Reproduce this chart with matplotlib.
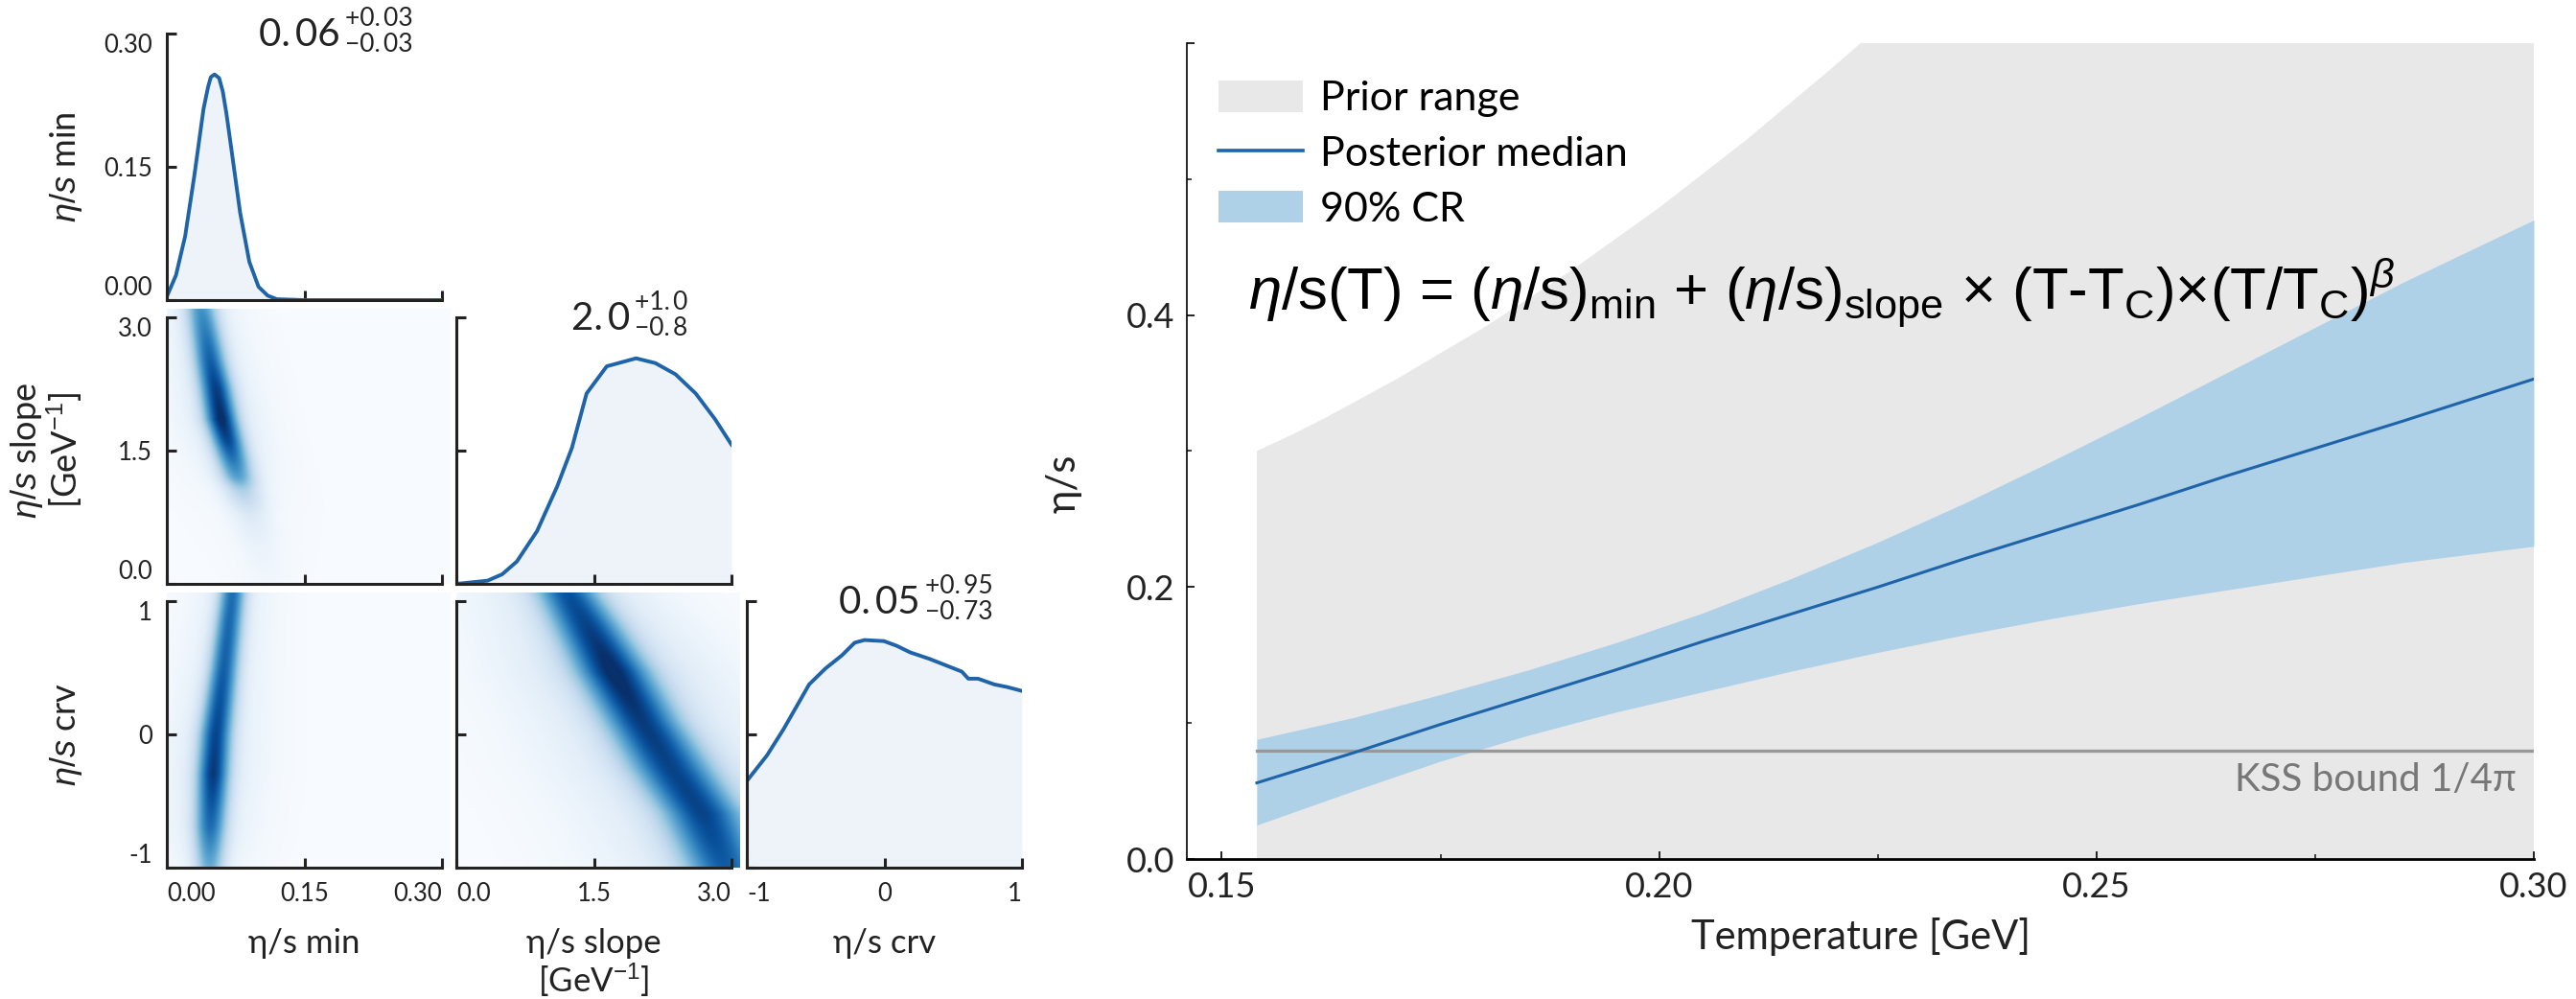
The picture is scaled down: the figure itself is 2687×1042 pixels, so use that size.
import numpy as np
import matplotlib
matplotlib.use("Agg")
import matplotlib.pyplot as plt
from matplotlib.patches import Patch
from matplotlib.lines import Line2D

plt.rcParams['font.family'] = ['Lato', 'DejaVu Sans']
plt.rcParams['mathtext.fontset'] = 'custom'
plt.rcParams['mathtext.rm'] = 'Liberation Sans'
plt.rcParams['mathtext.it'] = 'Liberation Sans:italic'
plt.rcParams['mathtext.bf'] = 'Liberation Sans:bold'

# ---------------- corner plot data ----------------
min_range = (0.0, 0.3)
slope_range = (0.0, 3.0)
crv_range = (-1.0, 1.0)

# marginal of eta/s min (drawn on the 0-0.3 axis)
min_x = [0.0, 0.01, 0.02, 0.03, 0.04, 0.045, 0.048, 0.052, 0.057, 0.061, 0.065, 0.07, 0.08, 0.09, 0.10, 0.11,
         0.12, 0.15, 0.30]
min_pdf = [0.004, 0.028, 0.072, 0.14, 0.215, 0.240, 0.251, 0.254, 0.25, 0.235, 0.21, 0.173, 0.098, 0.043,
           0.015, 0.005, 0.001, 0.0, 0.0]

# marginal of eta/s slope (drawn on the 0-3 axis)
slope_x = [0.0, 0.34, 0.50, 0.66, 0.88, 1.10, 1.26, 1.42, 1.64, 1.96, 2.17, 2.39, 2.61, 2.82, 3.0]
slope_pdf = [0.0, 0.036, 0.108, 0.252, 0.594, 1.098, 1.53, 2.143, 2.449, 2.539, 2.485, 2.359, 2.143, 1.855, 1.567]

# marginal of eta/s crv (drawn on the -1..1 axis)
crv_x = [-1.0, -0.853, -0.735, -0.641, -0.547, -0.428, -0.31, -0.216, -0.145, -0.003, 0.091, 0.186,
         0.327, 0.445, 0.563, 0.61, 0.681, 0.799, 0.894, 1.0]
crv_pdf = [-0.35, -0.157, 0.036, 0.205, 0.375, 0.495, 0.592, 0.688, 0.708, 0.70, 0.664, 0.616,
           0.567, 0.519, 0.471, 0.418, 0.418, 0.375, 0.355, 0.326]

# 2D posteriors: ridge of the density (centre, width, strength) read along the y variable
ms_slope = [0.0, 0.4, 0.77, 1.05, 1.2, 1.6, 1.85, 2.2, 2.5, 2.8, 3.1]
ms_center = [0.110, 0.101, 0.091, 0.082, 0.077, 0.066, 0.059, 0.053, 0.047, 0.042, 0.037]
ms_width = [0.02, 0.018, 0.016, 0.014, 0.013, 0.012, 0.012, 0.012, 0.012, 0.012, 0.012]
ms_amp = [0.03, 0.06, 0.13, 0.32, 0.55, 0.88, 1.0, 0.92, 0.8, 0.7, 0.6]

mc_crv = [-1.05, -0.7, -0.3, 0.0, 0.5, 1.05]
mc_center = [0.046, 0.047, 0.050, 0.053, 0.062, 0.071]
mc_width = [0.011, 0.012, 0.012, 0.012, 0.011, 0.010]
mc_amp = [0.45, 0.75, 0.95, 0.9, 0.8, 0.75]

sc_crv = [-1.05, -0.6, -0.25, 0.1, 0.47, 0.83, 1.05]
sc_center = [2.97, 2.69, 2.34, 2.02, 1.71, 1.41, 1.22]
sc_width = [0.30, 0.30, 0.30, 0.28, 0.27, 0.25, 0.23]
sc_amp = [0.75, 0.85, 0.85, 0.88, 0.95, 0.85, 0.8]

titles = [("0.\u200906", "+0.\u200903", "\u22120.\u200903"),
          ("2.\u20090", "+1.\u20090", "\u22120.\u20098"),
          ("0.\u200905", "+0.\u200995", "\u22120.\u200973")]

# ---------------- eta/s(T) data ----------------
T = [0.154, 0.165, 0.175, 0.185, 0.195, 0.205, 0.215, 0.225, 0.235, 0.245, 0.255, 0.265, 0.275, 0.285, 0.30]
cr_upper = [0.088, 0.104, 0.121, 0.139, 0.159, 0.181, 0.206, 0.233, 0.262, 0.293, 0.325, 0.358, 0.391, 0.424, 0.470]
cr_lower = [0.025, 0.050, 0.072, 0.091, 0.108, 0.123, 0.138, 0.152, 0.165, 0.177, 0.188, 0.198, 0.208, 0.218, 0.230]
median = [0.056, 0.078, 0.099, 0.119, 0.139, 0.160, 0.180, 0.200, 0.221, 0.241, 0.261, 0.282, 0.302, 0.322, 0.353]

prior_T = [0.154, 0.158, 0.162, 0.166, 0.170, 0.175, 0.180, 0.185, 0.190, 0.195, 0.200, 0.205,
           0.210, 0.215, 0.220, 0.225, 0.230, 0.30]
prior_upper = [0.300, 0.312, 0.325, 0.339, 0.353, 0.372, 0.391, 0.412, 0.433, 0.456, 0.479, 0.504,
               0.529, 0.556, 0.583, 0.611, 0.641, 0.95]
kss = 1 / (4 * np.pi)

# ---------------- styling ----------------
line_c = '#1f63a8'
fill_c = '#eef3f9'
band_c = '#aed1e7'
prior_c = '#e8e8e8'
W, H = 2687, 1042

fig = plt.figure(figsize=(W / 100, H / 100), dpi=100)

col_px = [174, 476, 779]
row_px = [35, 331, 627]
ax_w, ax_h = 287, 278


def make_ax(r, c):
    return fig.add_axes([col_px[c] / W, 1 - (row_px[r] + ax_h) / H, ax_w / W, ax_h / H])


def corner_style(ax, xr, yr, xticks, yticks, xlabels=None, ylabels=None):
    ax.set_xlim(xr)
    ax.set_ylim(yr)
    ax.set_facecolor('none')
    for s in ['top', 'right']:
        ax.spines[s].set_visible(False)
    for s in ['left', 'bottom']:
        ax.spines[s].set_linewidth(2.2)
        ax.spines[s].set_color('#222222')
    ax.tick_params(direction='in', length=7, width=2.2, color='#222222', labelsize=18.5,
                   pad=11, labelcolor='#222222')
    ax.set_xticks(xticks)
    ax.set_yticks(yticks)
    if xlabels is None:
        ax.set_xticklabels([])
    else:
        ax.set_xticklabels(xlabels)
        tk = ax.xaxis.get_major_ticks()
        tk[0].label1.set_horizontalalignment('left')
        tk[-1].label1.set_horizontalalignment('right')
    if ylabels is None:
        ax.set_yticklabels([])
    else:
        ax.set_yticklabels(ylabels)
        tk = ax.yaxis.get_major_ticks()
        tk[0].label1.set_verticalalignment('bottom')
        tk[-1].label1.set_verticalalignment('top')


def ridge_image(ax, xr, yr, ys, centers, widths, amps, halo=0.15, halo_w=2.8):
    nx, ny = 220, 220
    ext_x = xr[1] + 0.03 * (xr[1] - xr[0])
    ext_y = yr[1] + 0.03 * (yr[1] - yr[0])
    gx = np.linspace(xr[0], ext_x, nx)
    gy = np.linspace(yr[0], ext_y, ny)
    X, Y = np.meshgrid(gx, gy)
    c = np.interp(Y, ys, centers)
    w = np.interp(Y, ys, widths)
    a = np.interp(Y, ys, amps)
    d = X - c
    Z = a * (np.exp(-d ** 2 / (2 * w ** 2)) + halo * np.exp(-d ** 2 / (2 * (halo_w * w) ** 2)))
    im = ax.imshow(Z, origin='lower', extent=[xr[0], ext_x, yr[0], ext_y], aspect='auto',
                   cmap='Blues', vmin=0, vmax=1.12, interpolation='bilinear', zorder=0)
    im.set_clip_on(False)


def post_title(ax, med, up, lo):
    x0, y0 = 0.63, 0.952
    ax.text(x0, y0, med, transform=ax.transAxes, ha='right', va='baseline', fontsize=29, color='#222222')
    ax.annotate(up, xy=(x0, y0), xycoords='axes fraction', xytext=(4, 15.5), textcoords='offset points',
                ha='left', va='baseline', fontsize=19, color='#222222')
    ax.annotate(lo, xy=(x0, y0), xycoords='axes fraction', xytext=(4, -3.8), textcoords='offset points',
                ha='left', va='baseline', fontsize=19, color='#222222')


# diagonal: eta/s min
ax00 = make_ax(0, 0)
ax00.fill_between(min_x, 0, min_pdf, color=fill_c, lw=0)
ax00.plot(min_x, min_pdf, color=line_c, lw=2.8)
corner_style(ax00, min_range, (0, 0.3), [0, 0.15, 0.3], [0, 0.15, 0.3], None, ['0.00', '0.15', '0.30'])
ax00.set_ylabel(r'$\eta/s$ min', fontsize=26, color='#222222')
post_title(ax00, *titles[0])

# eta/s slope vs min
ax10 = make_ax(1, 0)
ridge_image(ax10, min_range, slope_range, ms_slope, ms_center, ms_width, ms_amp)
corner_style(ax10, min_range, slope_range, [0, 0.15, 0.3], [0, 1.5, 3.0], None, ['0.0', '1.5', '3.0'])
ax10.set_ylabel('$\\eta/s$ slope\n[GeV$^{-1}$]', fontsize=26, color='#222222', linespacing=1.0)

# diagonal: eta/s slope
ax11 = make_ax(1, 1)
ax11.fill_between(slope_x, 0, slope_pdf, color=fill_c, lw=0)
ax11.plot(slope_x, slope_pdf, color=line_c, lw=2.8)
corner_style(ax11, slope_range, slope_range, [0, 1.5, 3.0], [0, 1.5, 3.0])
post_title(ax11, *titles[1])

# eta/s crv vs min
ax20 = make_ax(2, 0)
ridge_image(ax20, min_range, crv_range, mc_crv, mc_center, mc_width, mc_amp, halo=0.14, halo_w=3.2)
corner_style(ax20, min_range, crv_range, [0, 0.15, 0.3], [-1, 0, 1], ['0.00', '0.15', '0.30'], ['-1', '0', '1'])
ax20.set_ylabel(r'$\eta/s$ crv', fontsize=26, color='#222222')
ax20.set_xlabel('\u03b7/s min', fontsize=25, color='#222222')

# eta/s crv vs slope
ax21 = make_ax(2, 1)
ridge_image(ax21, slope_range, crv_range, sc_crv, sc_center, sc_width, sc_amp, halo=0.22, halo_w=3.0)
corner_style(ax21, slope_range, crv_range, [0, 1.5, 3.0], [-1, 0, 1], ['0.0', '1.5', '3.0'], None)
ax21.set_xlabel('\u03b7/s slope\n[GeV$^{-1}$]', fontsize=25, color='#222222', linespacing=1.1)

# diagonal: eta/s crv
ax22 = make_ax(2, 2)
ax22.fill_between(crv_x, -1, crv_pdf, color=fill_c, lw=0)
ax22.plot(crv_x, crv_pdf, color=line_c, lw=2.8)
corner_style(ax22, crv_range, crv_range, [-1, 0, 1], [-1, 0, 1], ['-1', '0', '1'], None)
ax22.set_xlabel('\u03b7/s crv', fontsize=25, color='#222222')
post_title(ax22, *titles[2])

for a in [ax00, ax10, ax20]:
    a.yaxis.set_label_coords(-0.30, 0.5)
for a in [ax20, ax21, ax22]:
    a.xaxis.set_label_coords(0.5, -0.225)

# ---------------- eta/s(T) panel ----------------
ax = fig.add_axes([1238 / W, 1 - 896 / H, (2643 - 1238) / W, 851 / H])
ax.fill_between(prior_T, 0, prior_upper, color=prior_c, lw=0, zorder=1)
ax.fill_between(T, cr_lower, cr_upper, color=band_c, lw=0, zorder=2)
ax.plot([T[0], T[-1]], [kss, kss], color='#999999', lw=2.4, zorder=2.5)
ax.plot(T, median, color=line_c, lw=2.2, zorder=3)
ax.text(0.298, 0.071, 'KSS bound 1/4\u03c0', ha='right', va='top', fontsize=29, color='#777777', zorder=4)

ax.set_xlim(0.146, 0.30)
ax.set_ylim(0, 0.6)
for s in ['top', 'right']:
    ax.spines[s].set_visible(False)
ax.spines['left'].set_linewidth(1.2)
ax.spines['bottom'].set_linewidth(2.0)
ax.set_xticks([0.15, 0.20, 0.25, 0.30])
ax.set_xticklabels(['0.15', '0.20', '0.25', '0.30'])
ax.set_xticks([0.175, 0.225, 0.275], minor=True)
ax.set_yticks([0.0, 0.2, 0.4, 0.6])
ax.set_yticklabels(['0.0', '0.2', '0.4', ''])
ax.set_yticks([0.1, 0.3, 0.5], minor=True)
ax.tick_params(which='major', direction='in', length=6, width=1.4, labelsize=26, pad=9, colors='#222222')
ax.tick_params(which='minor', direction='in', length=3.5, width=1.2, colors='#222222')
ax.set_xlabel('Temperature [GeV]', fontsize=30, color='#222222')
ax.xaxis.set_label_coords(0.5, -0.072)
ax.set_ylabel('\u03b7/s', fontsize=30, color='#222222')
ax.yaxis.set_label_coords(-0.078, 0.46)

handles = [Patch(facecolor=prior_c, edgecolor='none'),
           Line2D([], [], color=line_c, lw=2.6),
           Patch(facecolor=band_c, edgecolor='none')]
ax.legend(handles, ['Prior range', 'Posterior median', '90% CR'], loc='upper left',
          bbox_to_anchor=(-0.004, 1.0), frameon=False, fontsize=31, handlelength=2.05,
          handleheight=0.8, labelspacing=0.45, handletextpad=0.4)

ax.text(1302, 1042 - 323, r'$\eta$/s(T) = ($\eta$/s)$_{\mathrm{min}}$ + ($\eta$/s)$_{\mathrm{slope}}$ '
        r'$\times$ (T-T$_{\mathrm{C}}$)$\times$(T/T$_{\mathrm{C}}$)$^{\beta}$',
        transform=None, fontsize=44.5, family='Liberation Sans', ha='left', va='baseline',
        color='black', zorder=5)

fig.savefig('out.png', dpi=100)
